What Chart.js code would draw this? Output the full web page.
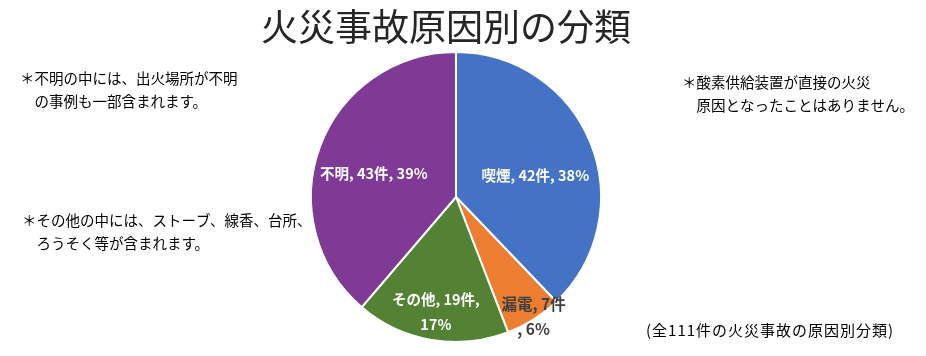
<!DOCTYPE html>
<html lang="ja">
<head>
<meta charset="UTF-8">
<title>火災事故原因別の分類</title>
<script src="https://cdn.jsdelivr.net/npm/chart.js@4"></script>
<style>
  html, body { margin: 0; padding: 0; background: #ffffff; }
  #wrap { width: 926px; height: 356px; }
</style>
</head>
<body>
<div id="wrap"><canvas id="myChart" width="926" height="356"></canvas></div>
<script>
// データ
const categories = ['喫煙', '漏電', 'その他', '不明'];
const counts = [42, 7, 19, 43];
const percents = [38, 6, 17, 39];
const colors = ['#4472C4', '#ED7D31', '#548235', '#7E3A94'];

// ラベルの位置（半径に対する割合）と色
const labelRadius = [0.5, 0.92, 0.82, 0.56];
const labelShift = [[12, 6], [6, 7], [0, -2], [-6, 5]];
const labelColor = ['#ffffff', '#404040', '#ffffff', '#ffffff'];
const labelSize = [14.5, 15.5, 14.5, 14.5];
const labelLines = [
    [categories[0] + ', ' + counts[0] + '件, ' + percents[0] + '%'],
    [categories[1] + ', ' + counts[1] + '件', ', ' + percents[1] + '%'],
    [categories[2] + ', ' + counts[2] + '件,', percents[2] + '%'],
    [categories[3] + ', ' + counts[3] + '件, ' + percents[3] + '%']
];

const titleText = '火災事故原因別の分類';
const notes = [
    { x: 20, y: 78, size: 14.5, spacing: 0, lines: ['＊不明の中には、出火場所が不明', '　の事例も一部含まれます。'] },
    { x: 22, y: 220, size: 14.5, spacing: 0, lines: ['＊その他の中には、ストーブ、線香、台所、', '　ろうそく等が含まれます。'] },
    { x: 682, y: 82, size: 14.5, spacing: 0, lines: ['＊酸素供給装置が直接の火災', '　原因となったことはありません。'] },
    { x: 646, y: 330, size: 15, spacing: 1, lines: ['(全111件の火災事故の原因別分類)'] }
];

const FONT = '"Noto Sans CJK JP", "Noto Sans", sans-serif';

const textPlugin = {
    id: 'textPlugin',
    afterDraw(chart) {
        const ctx = chart.ctx;
        ctx.save();
        // タイトル
        ctx.fillStyle = '#262626';
        ctx.font = '37px ' + FONT;
        ctx.textAlign = 'center';
        ctx.textBaseline = 'middle';
        ctx.fillText(titleText, 446, 27);

        // 注記
        ctx.textAlign = 'left';
        ctx.fillStyle = '#000000';
        notes.forEach(n => {
            ctx.font = n.size + 'px ' + FONT;
            ctx.letterSpacing = n.spacing + 'px';
            n.lines.forEach((t, i) => ctx.fillText(t, n.x, n.y + i * 23));
        });
        ctx.letterSpacing = '0px';

        // データラベル
        const meta = chart.getDatasetMeta(0);
        ctx.textAlign = 'center';
        meta.data.forEach((arc, i) => {
            const p = arc.getProps(['x', 'y', 'startAngle', 'endAngle', 'outerRadius'], true);
            const mid = (p.startAngle + p.endAngle) / 2;
            const r = p.outerRadius * labelRadius[i];
            const cx = p.x + Math.cos(mid) * r + labelShift[i][0];
            const cy = p.y + Math.sin(mid) * r + labelShift[i][1];
            const lines = labelLines[i];
            ctx.font = 'bold ' + labelSize[i] + 'px ' + FONT;
            ctx.fillStyle = labelColor[i];
            lines.forEach((t, k) => {
                ctx.fillText(t, cx, cy + (k - (lines.length - 1) / 2) * 24.5);
            });
        });
        ctx.restore();
    }
};

const ctx = document.getElementById('myChart').getContext('2d');
new Chart(ctx, {
    type: 'pie',
    data: {
        labels: categories,
        datasets: [{
            data: counts,
            backgroundColor: colors,
            borderColor: '#ffffff',
            borderWidth: 2
        }]
    },
    options: {
        responsive: false,
        animation: false,
        layout: { padding: { top: 51, bottom: 13, left: 310, right: 324 } },
        plugins: {
            legend: { display: false },
            tooltip: { enabled: false },
            title: { display: false }
        }
    },
    plugins: [textPlugin]
});
</script>
</body>
</html>
